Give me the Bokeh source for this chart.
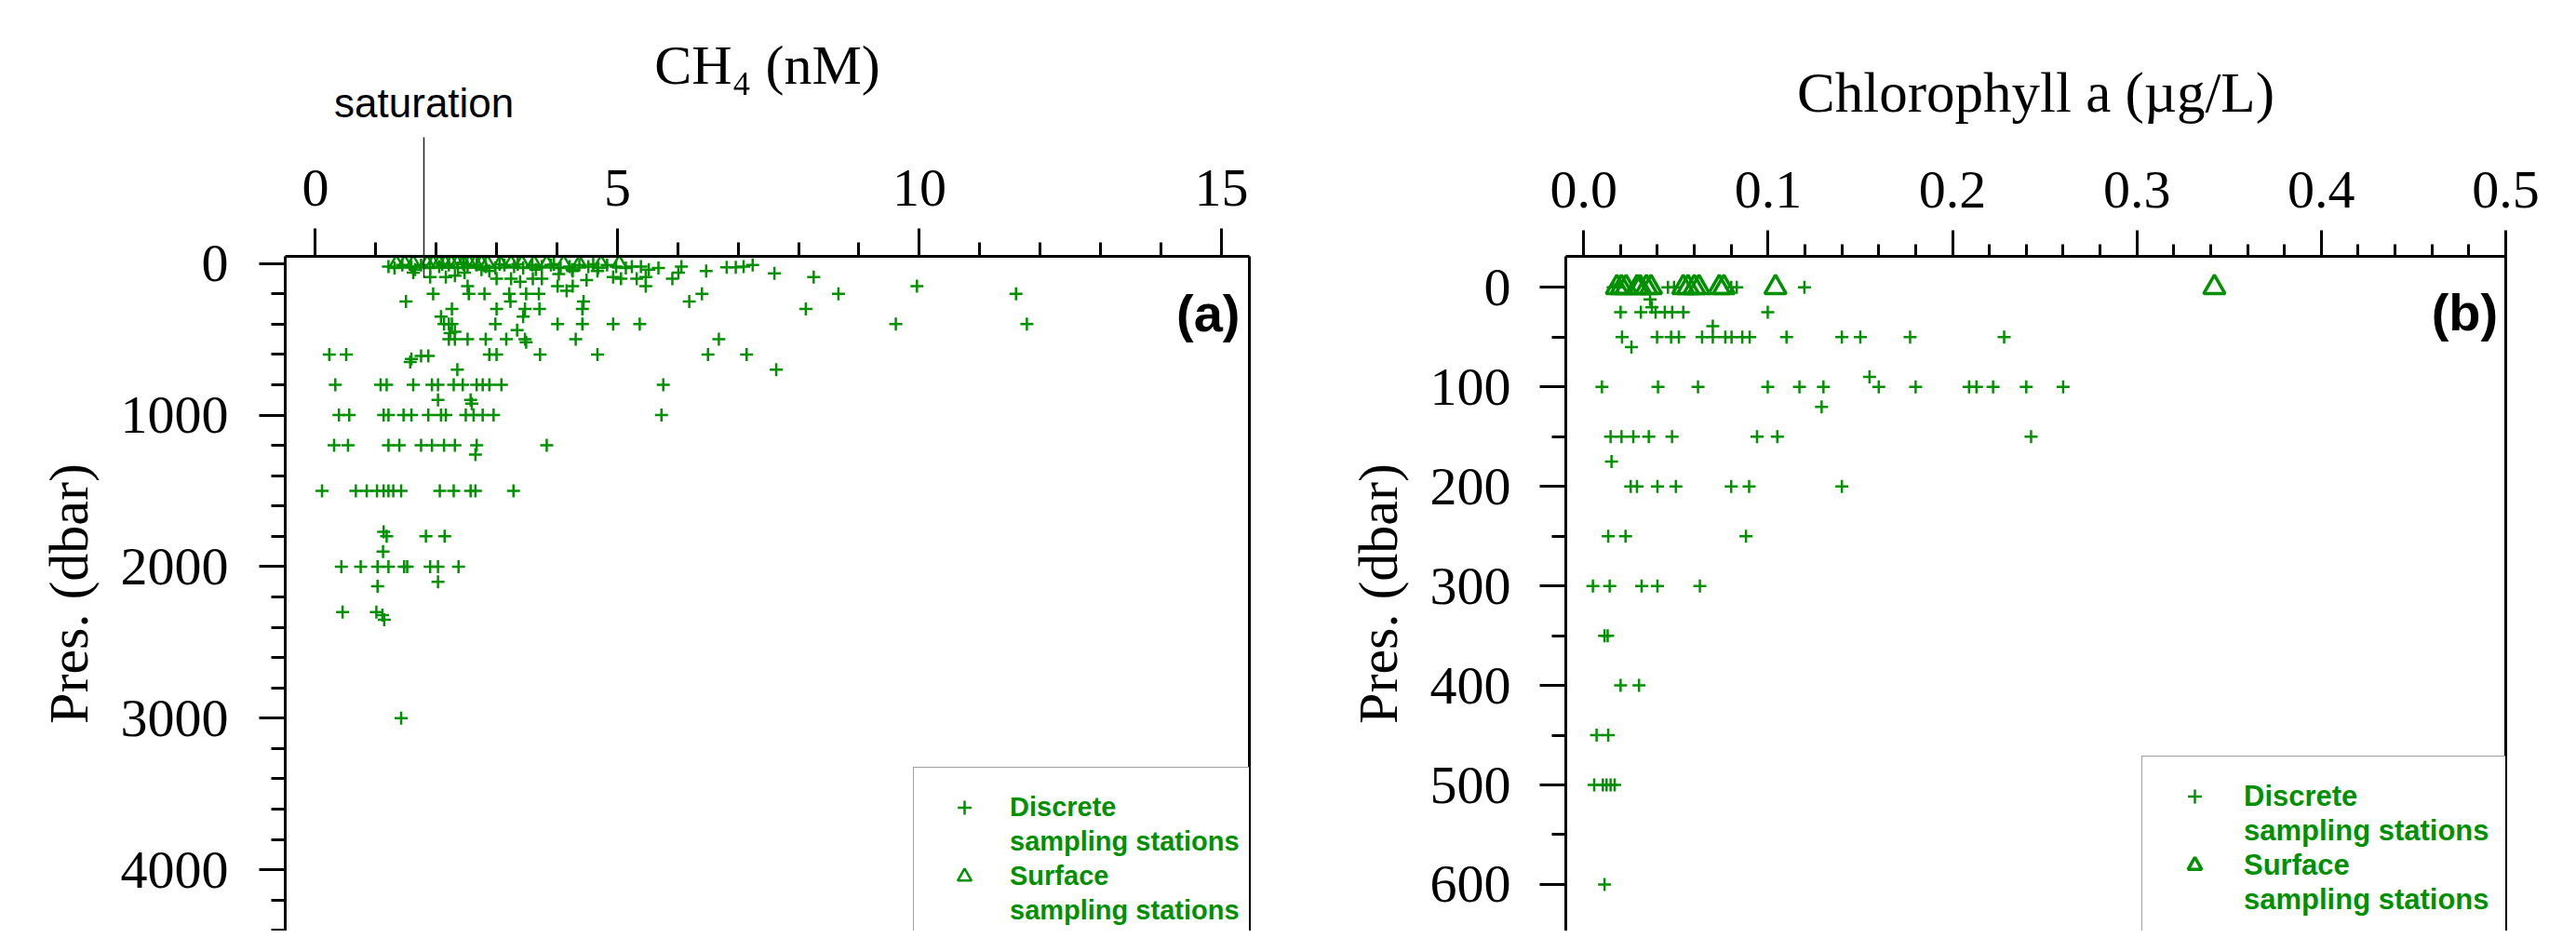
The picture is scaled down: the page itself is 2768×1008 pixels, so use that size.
from bokeh.plotting import figure
from bokeh.models import (Range1d, LinearAxis, SingleIntervalTicker, FixedTicker, Label,
                          Legend, LegendItem, PrintfTickFormatter)
from bokeh.layouts import row
from bokeh.embed import file_html
from bokeh.resources import INLINE

GREEN = "#009000"
SERIF = "Liberation Serif"
SANS = "Liberation Sans"

# ---------------- Panel (a): CH4 (nM) vs pressure (dbar) ----------------
ch4_discrete = [
    1.21, 1.31, 1.44, 1.59, 1.65, 1.75, 1.90, 2.05, 2.10, 2.21, 2.36, 2.45, 2.52, 2.67, 2.75, 2.82, 2.98, 3.05, 3.13,
    3.29, 3.35, 3.44, 3.59, 3.65, 3.75, 3.90, 3.95, 4.06, 4.21, 4.25, 4.37, 4.52, 4.60, 4.68, 4.83, 4.98, 5.14, 5.24,
    5.06, 5.32, 5.47, 5.47, 5.39, 5.52, 5.91, 6.01, 5.68, 6.06, 6.47, 6.81, 6.96, 7.09, 7.24, 7.60, 8.25, 8.66, 8.12,
    9.96, 9.61, 11.60, 11.78, 7.63, 6.19, 6.40, 6.68, 6.50, 7.14, 5.76, 5.73,
    1.62, 1.90, 2.16, 2.31, 2.47, 2.88, 3.00, 3.24, 3.39, 3.60, 3.75, 4.03, 4.26, 4.49, 4.67, 4.93,
    2.52, 4.01, 4.16, 4.26, 4.44,
    1.95, 2.54, 2.80, 3.21, 3.49, 3.70, 1.50, 3.23, 2.26, 3.00, 3.47, 3.71, 4.42, 2.08, 3.44, 2.21,
    2.13, 2.26, 2.98, 4.01, 4.42, 4.93, 5.37,
    2.31, 3.34, 2.23,
    2.21, 2.31, 2.52, 2.82, 3.16, 3.47, 3.49, 4.31,
    0.23, 0.51, 1.57, 1.59, 1.75, 1.87, 2.88, 3.00, 3.72, 4.67,
    2.35,
    0.33, 1.08, 1.18, 1.62, 1.93, 2.03, 2.29, 2.44, 2.67, 2.77, 2.88, 3.08,
    2.03, 2.57, 2.59,
    0.39, 0.56, 1.13, 1.21, 1.46, 1.59, 1.87, 2.08, 2.16, 2.49, 2.62, 2.77, 2.95,
    0.31, 0.54, 1.21, 1.39, 1.75, 1.93, 2.13, 2.31, 2.67, 3.83, 2.65,
    0.11, 0.67, 0.85, 1.02, 1.13, 1.21, 1.29, 1.42, 2.06, 2.29, 2.57, 2.65, 3.28,
    1.13, 1.18, 1.83, 2.14, 1.12,
    0.43, 0.75, 1.03, 1.21, 1.47, 1.52, 1.90, 2.03, 2.37, 1.03, 2.03,
    0.45, 1.01, 1.11, 1.14,
    1.42,
]
pres_discrete_a = [
    20, 30, 10, 20, 40, 10, 30, 20, 5, 10, 30, 5, 20, 10, 40, 20, 30, 5, 10,
    20, 5, 30, 10, 40, 20, 10, 5, 30, 20, 40, 10, 20, 5, 30, 10, 20, 30, 20,
    100, 100, 90, 150, 20, 40, 100, 60, 30, 20, 50, 25, 25, 20, 10, 65, 90, 200, 300,
    150, 400, 200, 400, 700, 250, 200, 500, 600, 600, 800, 1000,
    60, 90, 90, 80, 60, 50, 100, 100, 120, 100, 100, 70, 50, 110, 50, 90,
    150, 150, 180, 150, 250,
    200, 200, 200, 200, 200, 200, 250, 250, 300, 300, 300, 300, 300, 350, 350, 400,
    400, 400, 400, 400, 400, 400, 400,
    450, 440, 460,
    500, 500, 500, 500, 500, 500, 520, 500,
    600, 600, 650, 630, 610, 610, 600, 600, 600, 600,
    700,
    800, 800, 800, 800, 800, 800, 800, 800, 800, 800, 800, 800,
    900, 900, 925,
    1000, 1000, 1000, 1000, 1000, 1000, 1000, 1000, 1000, 1000, 1000, 1000, 1000,
    1200, 1200, 1200, 1200, 1200, 1200, 1200, 1200, 1200, 1200, 1260,
    1500, 1500, 1500, 1500, 1500, 1500, 1500, 1500, 1500, 1500, 1500, 1500, 1500,
    1770, 1800, 1800, 1800, 1900,
    2000, 2000, 2000, 2000, 2000, 2000, 2000, 2000, 2000, 2130, 2100,
    2300, 2300, 2320, 2350,
    3000,
]
ch4_surface = [1.34, 1.48, 1.62, 1.85, 1.95, 2.05, 2.15, 2.25, 2.35, 2.45, 2.55, 2.65, 2.75, 2.85,
               3.06, 3.24, 3.42, 3.62, 3.83, 4.11, 4.37, 4.73, 5.03]
pres_surface_a = [0] * 23
ch4_saturation = 1.80

# ---------------- Panel (b): Chlorophyll a (ug/L) vs pressure ----------------
chla_discrete = [
    0.016, 0.0188, 0.0457, 0.049, 0.080, 0.083, 0.1197,
    0.036, 0.037,
    0.020, 0.031, 0.039, 0.044, 0.048, 0.054, 0.0998,
    0.070,
    0.0208, 0.0398, 0.0474, 0.0516, 0.0642, 0.070, 0.0768, 0.0802, 0.086, 0.090, 0.110, 0.140, 0.150, 0.177, 0.228,
    0.0259, 0.155,
    0.0099, 0.0403, 0.062, 0.0998, 0.117, 0.130, 0.160, 0.180, 0.209, 0.213, 0.222, 0.240, 0.260,
    0.129,
    0.0146, 0.0205, 0.0269, 0.0353, 0.0479, 0.094, 0.105, 0.2426,
    0.0151,
    0.0255, 0.0289, 0.040, 0.050, 0.080, 0.0897, 0.140,
    0.0133, 0.0227, 0.088,
    0.005, 0.0141, 0.0314, 0.040, 0.063,
    0.0113, 0.013,
    0.020, 0.030,
    0.007, 0.0133,
    0.0057, 0.0104, 0.0124, 0.0146, 0.0168,
    0.0113,
]
pres_discrete_b = [
    0, 0, 0, 0, 0, 0, 0,
    12, 20,
    25, 25, 25, 25, 25, 25, 25,
    39,
    50, 50, 50, 50, 50, 50, 50, 50, 50, 50, 50, 50, 50, 50, 50,
    60, 90,
    100, 100, 100, 100, 100, 100, 100, 100, 100, 100, 100, 100, 100,
    120,
    150, 150, 150, 150, 150, 150, 150, 150,
    175,
    200, 200, 200, 200, 200, 200, 200,
    250, 250, 250,
    300, 300, 300, 300, 300,
    350, 350,
    400, 400,
    450, 450,
    500, 500, 500, 500, 500,
    600,
]
chla_surface = [0.018, 0.0205, 0.023, 0.0289, 0.0306, 0.034, 0.0365, 0.054, 0.0566, 0.060, 0.0625,
                0.0735, 0.076, 0.104, 0.342]
pres_surface_b = [0] * 15

legend_labels = ["Discrete", "sampling stations", "Surface", "sampling stations"]


def style_axis(ax, major_out, minor_out, standoff):
    ax.axis_line_width = 3
    ax.axis_line_color = "black"
    ax.major_tick_line_width = 3
    ax.minor_tick_line_width = 3
    ax.major_tick_line_color = "black"
    ax.minor_tick_line_color = "black"
    ax.major_tick_in = 0
    ax.minor_tick_in = 0
    ax.major_tick_out = major_out
    ax.minor_tick_out = minor_out
    ax.major_label_text_font = SERIF
    ax.major_label_text_font_size = "58px"
    ax.major_label_text_color = "black"
    ax.major_label_standoff = standoff


def style_ytitle(ax, standoff):
    ax.axis_label = "Pres. (dbar)"
    ax.axis_label_text_font = SERIF
    ax.axis_label_text_font_size = "60px"
    ax.axis_label_text_font_style = "normal"
    ax.axis_label_text_color = "black"
    ax.axis_label_standoff = standoff


def add_right_border(p):
    ax = LinearAxis(ticker=FixedTicker(ticks=[]), major_label_text_font_size="0px",
                    axis_line_width=3, axis_line_color="black",
                    major_tick_line_color=None, minor_tick_line_color=None)
    p.add_layout(ax, "right")


def make_legend(r_disc, r_surf, loc, font_size, glyph_w, standoff, row_h):
    items = [LegendItem(label=legend_labels[0], renderers=[r_disc]),
             LegendItem(label=legend_labels[1], renderers=[]),
             LegendItem(label=legend_labels[2], renderers=[r_surf]),
             LegendItem(label=legend_labels[3], renderers=[])]
    return Legend(items=items, location=loc, padding=24, spacing=0, margin=0,
                  glyph_width=glyph_w, glyph_height=row_h, label_height=row_h, label_standoff=standoff,
                  label_text_font=SANS, label_text_font_style="bold", label_text_font_size=font_size,
                  label_text_color=GREEN, border_line_color="#404040", border_line_width=1.5,
                  background_fill_color="white", background_fill_alpha=1.0)


# ---------------- figure (a) ----------------
p1 = figure(width=1392, height=1000, output_backend="svg", toolbar_location=None,
            x_axis_location="above", x_range=Range1d(-0.499, 15.464), y_range=Range1d(4404, -47),
            min_border_left=306, min_border_right=50, min_border_top=271, min_border_bottom=0,
            outline_line_color=None, background_fill_color="white", border_fill_color="white")
p1.xgrid.visible = False
p1.ygrid.visible = False
p1.xaxis.ticker = SingleIntervalTicker(interval=5, num_minor_ticks=5)
p1.yaxis.ticker = SingleIntervalTicker(interval=1000, num_minor_ticks=5)
style_axis(p1.xaxis[0], 30, 15, 25)
style_axis(p1.yaxis[0], 28, 15, 33)
style_ytitle(p1.yaxis[0], 20)
add_right_border(p1)

# outer top axis: the "saturation" marker (its long tick is the arrow shaft) and the CH4 title
sat_axis = LinearAxis(ticker=FixedTicker(ticks=[ch4_saturation]),
                      major_label_overrides={ch4_saturation: "saturation"},
                      axis_line_color=None, major_tick_line_color="#202020", major_tick_line_width=1.5,
                      major_tick_in=119, major_tick_out=32, minor_tick_line_color=None,
                      major_label_standoff=13, major_label_text_font=SANS,
                      major_label_text_font_size="44px", major_label_text_color="black",
                      axis_label="CH\u2084 (nM)", axis_label_text_font=SERIF,
                      axis_label_text_font_size="60px", axis_label_text_font_style="normal",
                      axis_label_text_color="black", axis_label_standoff=-20)
p1.add_layout(sat_axis, "above")

ra1 = p1.scatter(x=ch4_discrete, y=pres_discrete_a, marker="cross", size=14,
                 line_color=GREEN, line_width=2.5)
ra2 = p1.scatter(x=ch4_surface, y=pres_surface_a, marker="triangle", size=15,
                 line_color=GREEN, line_width=2.5, fill_color=None)
p1.add_layout(make_legend(ra1, ra2, (675, -22), "29px", 60, 19, 37))

p1.add_layout(Label(x=15.31, y=325, text="(a)", text_font=SANS, text_font_size="56px",
                    text_font_style="bold", text_align="right", text_baseline="alphabetic",
                    text_color="black"))

# ---------------- figure (b) ----------------
p2 = figure(width=1360, height=1000, output_backend="svg", toolbar_location=None,
            x_axis_location="above", x_range=Range1d(-0.0097, 0.5), y_range=Range1d(646.8, -31.2),
            min_border_left=290, min_border_right=60, min_border_top=275, min_border_bottom=0,
            outline_line_color=None, background_fill_color="white", border_fill_color="white")
p2.xgrid.visible = False
p2.ygrid.visible = False
p2.xaxis.ticker = SingleIntervalTicker(interval=0.1, num_minor_ticks=5)
p2.xaxis.formatter = PrintfTickFormatter(format="%.1f")
p2.yaxis.ticker = SingleIntervalTicker(interval=100, num_minor_ticks=2)
style_axis(p2.xaxis[0], 28, 13, 25)
style_axis(p2.yaxis[0], 28, 15, 31)
style_ytitle(p2.yaxis[0], 20)
p2.xaxis.axis_label = "Chlorophyll a (µg/L)"
p2.xaxis.axis_label_text_font = SERIF
p2.xaxis.axis_label_text_font_size = "61px"
p2.xaxis.axis_label_text_font_style = "normal"
p2.xaxis.axis_label_text_color = "black"
p2.xaxis.axis_label_standoff = 49
add_right_border(p2)

rb1 = p2.scatter(x=chla_discrete, y=pres_discrete_b, marker="cross", size=14,
                 line_color=GREEN, line_width=2.5)
rb2 = p2.scatter(x=chla_surface, y=pres_surface_b, marker="triangle", size=23,
                 line_color=GREEN, line_width=3.5, fill_color=None)
p2.add_layout(make_legend(rb1, rb2, (619, -10), "31px", 64, 21, 37))

p2.add_layout(Label(x=0.4958, y=25, text="(b)", text_font=SANS, text_font_size="56px",
                    text_font_style="bold", text_align="right", text_baseline="alphabetic",
                    text_color="black"))

layout = row(p1, p2)
open("out.html", "w").write(file_html(layout, INLINE, "CH4 and Chlorophyll a profiles"))
